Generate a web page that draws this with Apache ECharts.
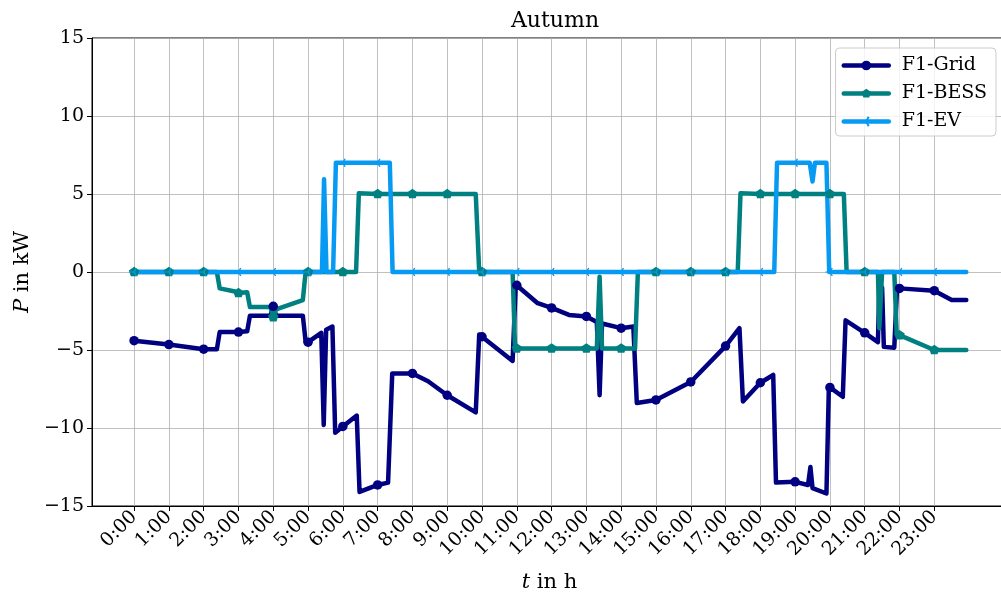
<!DOCTYPE html>
<html>
<head>
<meta charset="utf-8">
<script src="https://cdn.jsdelivr.net/npm/echarts@6/dist/echarts.min.js"></script>
<style>
  html, body { margin: 0; padding: 0; background: #ffffff; }
  #chart { width: 1001px; height: 597px; }
</style>
</head>
<body>
<div id="chart"></div>
<script>
// Hour ticks on the time axis
const hourTicks = [0,1,2,3,4,5,6,7,8,9,10,11,12,13,14,15,16,17,18,19,20,21,22,23];
const hourLabels = ['0:00','1:00','2:00','3:00','4:00','5:00','6:00','7:00','8:00','9:00','10:00','11:00',
                    '12:00','13:00','14:00','15:00','16:00','17:00','18:00','19:00','20:00','21:00','22:00','23:00'];

// Grid power: time in h, power in kW
const gridT = [0,1,2,2.38,2.46,3,3.25,3.33,3.92,4,4.08,4.85,4.93,5,5.38,5.45,5.52,5.7,5.78,6,6.4,6.48,7,7.3,7.42,8,8.45,9,9.82,9.92,10,
               10.88,10.97,11,11.6,12,12.5,13,13.3,13.38,13.45,14,14.35,14.45,15,16,17,17.4,17.5,18,18.37,18.45,19,19.37,19.44,19.5,19.9,19.97,20,
               20.37,20.45,21,21.38,21.42,21.5,21.55,21.85,21.93,22,23,23.5,23.92];
const gridP = [-4.4,-4.65,-4.95,-4.95,-3.85,-3.85,-3.8,-2.8,-2.8,-2.2,-2.8,-2.8,-4.45,-4.5,-3.9,-9.8,-3.7,-3.5,-10.3,-9.9,-9.2,-14.1,-13.65,-13.5,-6.5,-6.5,-7.0,-7.9,-9.0,-4.0,-4.15,
               -5.7,-0.8,-0.85,-2.0,-2.3,-2.75,-2.85,-3.2,-7.9,-3.3,-3.6,-3.5,-8.4,-8.2,-7.05,-4.75,-3.6,-8.3,-7.1,-6.6,-13.5,-13.45,-13.65,-12.5,-13.85,-14.2,-7.35,-7.4,
               -8.0,-3.1,-3.9,-4.5,-1.0,-1.0,-4.8,-4.85,-1.0,-1.05,-1.2,-1.8,-1.8];

// Battery storage power
const bessT = [0,1,2,2.38,2.46,2.9,3,3.25,3.33,3.92,4,4.08,4.85,4.93,5,6,6.38,6.46,7,8,9,9.82,9.92,10,10.88,10.95,11,12,13,13.3,
               13.38,13.45,14,14.4,14.48,15,16,17,17.35,17.43,18,19,20,20.4,20.48,21,21.38,21.42,21.46,21.5,21.85,21.92,22,23,23.92];
const bessP = [0,0,0,0,-1.05,-1.25,-1.35,-1.3,-2.25,-2.25,-2.9,-2.4,-1.8,0,0,0,0,5.05,5,5,5,5,0,0,0,-4.9,-4.9,-4.9,-4.9,-4.9,
               -0.3,-4.9,-4.9,-4.9,0,0,0,0,0,5.05,5,5,5,5,0,0,0,-3.6,-3.6,0,0,-4.0,-4.05,-5.0,-5.0];

// EV charging power
const evT = [0,1,2,3,4,5,5.4,5.46,5.53,5.72,5.8,6,7,7.35,7.43,8,9,10,11,12,13,14,15,16,17,18,
             18.4,18.48,19,19.42,19.5,19.57,19.9,19.98,20,21,22,23,23.92];
const evP = [0,0,0,0,0,0,0,5.95,0,0,7,7,7,7,0,0,0,0,0,0,0,0,0,0,0,0,
             0,7,7,7,5.8,7,7,0,0,0,0,0,0];

const FONT = 'DejaVu Serif';
const LINE_W = 4.5;
const TRI_LEFT = 'path://M0,0L-10,0M0,0L5,-8.66M0,0L5,8.66M10,0L10,0';
const PENTAGON = 'path://M0,-1L0.951,-0.309L0.588,0.809L-0.588,0.809L-0.951,-0.309ZM0,1L0,1';

// markers only on the full hours
function toData(ts, ps, sym) {
  return ts.map((t, i) => ({ value: [t, ps[i]], symbol: Number.isInteger(t) ? sym : 'none' }));
}

function lineSeries(name, ts, ps, color, sym, size, extraItem) {
  return {
    name: name,
    type: 'line',
    data: toData(ts, ps, sym),
    symbol: sym,
    symbolSize: size,
    showSymbol: true,
    lineStyle: { color: color, width: LINE_W, join: 'round', cap: 'round' },
    itemStyle: Object.assign({ color: color, borderWidth: 0 }, extraItem || {}),
    emphasis: { disabled: true },
    animation: false
  };
}

const chart = echarts.init(document.getElementById('chart'), null, { renderer: 'canvas' });
chart.setOption({
  backgroundColor: '#ffffff',
  textStyle: { fontFamily: FONT },
  title: {
    text: 'Autumn', left: 550, top: 5, textAlign: 'center',
    textStyle: { fontFamily: FONT, fontSize: 22, fontWeight: 'normal', color: '#000' }
  },
  grid: {
    left: 92, right: -6, top: 38, bottom: 91, outerBoundsMode: 'none',
    show: true, borderColor: '#000', borderWidth: 1, backgroundColor: 'transparent'
  },
  legend: {
    orient: 'vertical', right: 5, top: 48,
    data: ['F1-Grid', 'F1-BESS', 'F1-EV'],
    itemWidth: 45, itemHeight: 12, itemGap: 9,
    padding: [8, 9, 5, 6],
    backgroundColor: 'rgba(255,255,255,0.8)',
    borderColor: '#cccccc', borderWidth: 1, borderRadius: 4,
    lineStyle: { width: LINE_W },
    textStyle: { fontFamily: FONT, fontSize: 19, color: '#000', padding: [0, 0, 0, 8] }
  },
  xAxis: {
    type: 'value', min: -1.21, max: 25.09,
    name: '{i|t} in h', nameLocation: 'middle', nameGap: 66,
    nameTextStyle: {
      fontFamily: FONT, fontSize: 21, color: '#000',
      rich: { i: { fontFamily: FONT, fontSize: 21, fontStyle: 'italic', color: '#000' } }
    },
    axisLine: { show: true, onZero: false, lineStyle: { color: '#000', width: 1 } },
    axisTick: { show: true, customValues: hourTicks, length: 5, lineStyle: { color: '#000' } },
    axisLabel: {
      customValues: hourTicks, rotate: 45, margin: 8,
      formatter: v => hourLabels[Math.round(v)],
      fontFamily: FONT, fontSize: 19, color: '#000'
    },
    splitLine: { show: true, lineStyle: { color: '#b0b0b0', width: 0.8 } }
  },
  yAxis: {
    type: 'value', min: -15, max: 15, interval: 5,
    name: '{i|P} in kW', nameLocation: 'middle', nameGap: 58,
    nameTextStyle: {
      fontFamily: FONT, fontSize: 21, color: '#000',
      rich: { i: { fontFamily: FONT, fontSize: 21, fontStyle: 'italic', color: '#000' } }
    },
    axisLine: { show: true, onZero: false, lineStyle: { color: '#000', width: 1 } },
    axisTick: { show: true, length: 5, lineStyle: { color: '#000' } },
    axisLabel: {
      margin: 8, fontFamily: FONT, fontSize: 19, color: '#000',
      formatter: v => (v < 0 ? '\u2212' + Math.abs(v) : String(v))
    },
    splitLine: { show: true, lineStyle: { color: '#b0b0b0', width: 0.8 } }
  },
  series: [
    lineSeries('F1-Grid', gridT, gridP, '#000080', 'circle', 9.5),
    lineSeries('F1-BESS', bessT, bessP, '#008080', PENTAGON, 10.5),
    lineSeries('F1-EV', evT, evP, '#069AF3', TRI_LEFT, [9.2, 8], { borderColor: '#069AF3', borderWidth: 1.3 })
  ]
});
</script>
</body>
</html>
